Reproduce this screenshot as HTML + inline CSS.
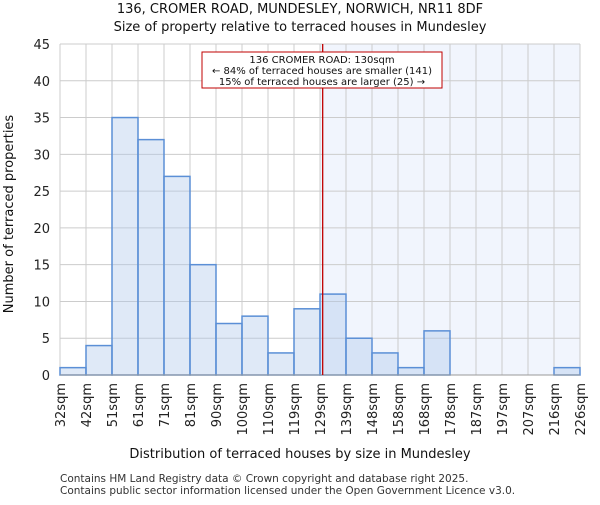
<!DOCTYPE html>
<html><head><meta charset="utf-8"><style>
body{margin:0;background:#fff;font-family:"Liberation Sans","DejaVu Sans",sans-serif}
text{font-family:"DejaVu Sans","Liberation Sans",sans-serif}
</style></head><body>
<svg id="c" width="600" height="500"></svg>
<script>
const binLabels=["32sqm","42sqm","51sqm","61sqm","71sqm","81sqm","90sqm","100sqm","110sqm","119sqm","129sqm","139sqm","148sqm","158sqm","168sqm","178sqm","187sqm","197sqm","207sqm","216sqm","226sqm"];
const counts=[1,4,35,32,27,15,7,8,3,9,11,5,3,1,6,0,0,0,0,1];
const yTicks=[0,5,10,15,20,25,30,35,40,45];
const xMin=32, xMax=226, marker=130;
const L=60,R=580,T=44,B=375,yMax=45;
const NS="http://www.w3.org/2000/svg";
const svg=document.getElementById('c');
const y=v=>B-(v/yMax)*(B-T);
const bw=(R-L)/counts.length;
const bx=i=>L+i*bw;
const xv=v=>L+(v-xMin)/(xMax-xMin)*(R-L);
function mk(tag,a,txt){const e=document.createElementNS(NS,tag);for(const k in a)e.setAttribute(k,a[k]);if(txt!==undefined)e.textContent=txt;svg.appendChild(e);return e;}
// shaded region
const firstRight=Math.floor((marker-xMin)/(xMax-xMin)*counts.length);
let sh=mk('rect',{x:bx(firstRight),y:T,width:R-bx(firstRight),height:B-T,fill:'#f1f5fd'});


// grid
yTicks.forEach(t=>{let g=mk('line',{x1:L,x2:R,y1:y(t),y2:y(t),stroke:'#cccccc','stroke-width':1});


let tl=mk('text',{x:L-10,y:y(t)+5,'text-anchor':'end','font-size':13,fill:'#222'},t);

});
binLabels.forEach((lab,i)=>{const X=bx(i);let g=mk('line',{x1:X,x2:X,y1:T,y2:B,stroke:'#cccccc','stroke-width':1});


let tl=mk('text',{x:0,y:0,transform:`translate(${X+5},${B+8}) rotate(-90)`,'text-anchor':'end','font-size':13,fill:'#222'},lab);

});
// bars
counts.forEach((c,i)=>{if(c<=0)return;let r=mk('rect',{x:bx(i),y:y(c),width:bw,height:B-y(c),fill:'rgba(175,200,235,0.4)',stroke:'#5b8fd6','stroke-width':1.5});

});
// axes
let ax=mk('line',{x1:L,x2:R,y1:B,y2:B,stroke:'#999','stroke-width':1});


// marker
let m=mk('line',{x1:xv(marker),x2:xv(marker),y1:T,y2:B,stroke:'#c00000','stroke-width':1.3});


</script>
<svg width="600" height="500" style="position:absolute;left:0;top:0">
<rect x="202" y="52" width="240" height="36" fill="#fff" stroke="#c00000" stroke-width="1"/>
<text x="322" y="63" text-anchor="middle" font-size="10" fill="#111">136 CROMER ROAD: 130sqm</text>
<text x="322" y="74" text-anchor="middle" font-size="10" fill="#111">← 84% of terraced houses are smaller (141)</text>
<text x="322" y="85" text-anchor="middle" font-size="10" fill="#111">15% of terraced houses are larger (25) →</text>
<text x="300" y="13" text-anchor="middle" font-size="13" fill="#111">136, CROMER ROAD, MUNDESLEY, NORWICH, NR11 8DF</text>
<text x="300" y="31" text-anchor="middle" font-size="13" fill="#111">Size of property relative to terraced houses in Mundesley</text>
<text x="300" y="458" text-anchor="middle" font-size="13" fill="#111">Distribution of terraced houses by size in Mundesley</text>
<text transform="translate(13,214) rotate(-90)" text-anchor="middle" font-size="13" fill="#111">Number of terraced properties</text>
<text x="60" y="482" font-size="10.5" fill="#333">Contains HM Land Registry data © Crown copyright and database right 2025.</text>
<text x="60" y="494" font-size="10.5" fill="#333">Contains public sector information licensed under the Open Government Licence v3.0.</text>
</svg>
</body></html>
